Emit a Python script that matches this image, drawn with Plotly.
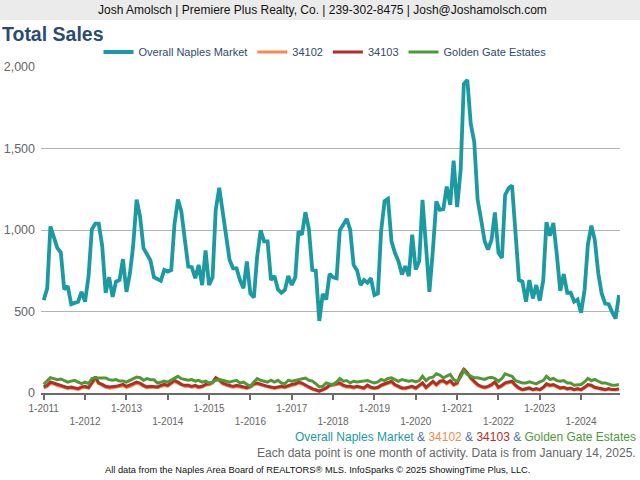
import pandas as pd
import plotly.graph_objects as go

months = pd.date_range("2011-01-01", "2024-12-01", freq="MS")

overall = [
    570, 642, 1022, 960, 890, 862, 636, 656, 545, 553, 560, 621,
    560, 714, 1002, 1039, 1039, 900, 615, 710, 590, 683, 693, 821,
    621, 735, 900, 1187, 1084, 889, 848, 813, 710, 697, 689, 755,
    745, 755, 1033, 1187, 1115, 940, 776, 772, 704, 786, 662, 874,
    662, 710, 1125, 1259, 1105, 981, 817, 765, 765, 693, 642, 807,
    611, 586, 837, 998, 930, 930, 693, 718, 635, 615, 632, 718,
    662, 710, 992, 971, 1109, 1006, 755, 751, 442, 607, 574, 730,
    710, 704, 998, 1033, 1068, 1002, 786, 751, 662, 693, 677, 704,
    601, 611, 992, 1177, 1191, 930, 860, 809, 727, 778, 717, 971,
    758, 809, 1185, 900, 620, 880, 1175, 1124, 1128, 1266, 1154, 1425,
    1140, 1368, 1896, 1921, 1652, 1541, 1185, 1063, 931, 880, 941, 1108,
    860, 829, 1215, 1256, 1274, 981, 693, 683, 560, 693, 580, 662,
    566, 693, 1047, 965, 1043, 848, 627, 730, 615, 615, 560, 574,
    492, 632, 909, 1027, 940, 735, 611, 549, 545, 498, 457, 601,
]

zip_34102 = [
    30, 40, 58, 55, 45, 40, 35, 28, 30, 28, 22, 30,
    35, 30, 55, 85, 58, 45, 35, 30, 32, 35, 40, 45,
    35, 40, 50, 60, 55, 40, 32, 35, 36, 32, 40, 46,
    42, 55, 70, 60, 48, 40, 42, 36, 40, 32, 36, 48,
    50, 60, 85, 75, 55, 46, 40, 36, 40, 36, 32, 28,
    35, 50, 55, 48, 42, 36, 32, 28, 32, 36, 32, 40,
    46, 50, 60, 55, 42, 32, 22, 16, 10, 18, 26, 42,
    45, 50, 55, 42, 36, 36, 30, 36, 30, 26, 42, 30,
    26, 30, 42, 50, 60, 65, 46, 36, 26, 26, 30, 36,
    26, 42, 55, 30, 50, 65, 46, 65, 70, 56, 70, 46,
    56, 110, 150, 120, 88, 65, 46, 36, 30, 36, 46, 62,
    30, 42, 56, 62, 66, 42, 26, 18, 22, 26, 18, 22,
    18, 30, 50, 42, 46, 36, 26, 30, 22, 26, 18, 22,
    18, 30, 46, 42, 30, 26, 22, 18, 22, 18, 18, 22,
]

zip_34103 = [
    37, 47, 67, 61, 53, 47, 41, 33, 37, 33, 27, 37,
    41, 33, 61, 100, 61, 53, 41, 37, 37, 41, 47, 53,
    41, 47, 57, 67, 61, 47, 37, 41, 41, 37, 47, 53,
    47, 61, 78, 67, 53, 47, 47, 41, 47, 37, 41, 53,
    57, 67, 94, 82, 61, 53, 47, 41, 47, 41, 37, 33,
    41, 57, 61, 53, 47, 41, 37, 33, 37, 41, 37, 47,
    53, 57, 67, 61, 47, 37, 27, 20, 12, 21, 31, 48,
    52, 56, 62, 48, 41, 41, 35, 41, 35, 31, 48, 35,
    31, 35, 48, 56, 68, 72, 52, 41, 31, 31, 35, 41,
    31, 48, 62, 35, 56, 72, 52, 72, 76, 62, 76, 52,
    62, 114, 145, 124, 93, 72, 52, 41, 35, 41, 52, 68,
    35, 48, 62, 68, 72, 48, 31, 21, 27, 31, 21, 27,
    21, 35, 56, 48, 52, 41, 31, 35, 27, 31, 21, 27,
    21, 35, 52, 48, 35, 31, 27, 21, 27, 21, 21, 27,
]

golden_gate = [
    53, 73, 94, 88, 82, 86, 78, 67, 73, 78, 67, 57,
    67, 57, 88, 94, 92, 94, 92, 82, 78, 82, 73, 73,
    67, 78, 88, 98, 94, 78, 88, 82, 82, 61, 67, 73,
    67, 78, 88, 102, 88, 82, 78, 82, 73, 78, 67, 73,
    61, 67, 78, 82, 78, 71, 67, 73, 78, 61, 67, 53,
    41, 67, 88, 78, 73, 67, 78, 67, 78, 61, 57, 78,
    73, 78, 82, 88, 92, 78, 73, 57, 37, 41, 62, 56,
    52, 68, 89, 72, 76, 62, 72, 68, 72, 72, 76, 68,
    62, 68, 83, 76, 89, 93, 83, 72, 83, 76, 72, 76,
    68, 76, 103, 76, 93, 97, 118, 110, 93, 103, 114, 83,
    72, 97, 138, 114, 103, 93, 93, 89, 83, 93, 97, 89,
    72, 89, 118, 110, 103, 76, 68, 62, 62, 68, 62, 56,
    68, 76, 103, 83, 89, 76, 72, 76, 62, 62, 48, 48,
    52, 68, 89, 76, 83, 72, 62, 62, 56, 48, 48, 52,
]

series_names = ["Overall Naples Market", "34102", "34103", "Golden Gate Estates"]
series_colors = ["#1b9aa2", "#f58a4c", "#b32d28", "#4c9a37"]
series_widths = [3.8, 3, 3, 3]
series_values = [overall, zip_34102, zip_34103, golden_gate]

tick_years = list(range(2011, 2025))
tick_vals = [f"{y}-01-01" for y in tick_years]
tick_text = [f"1-{y}" if (y - 2011) % 2 == 0 else f"<br>1-{y}" for y in tick_years]

fig = go.Figure()
for name, color, width, vals in zip(series_names, series_colors, series_widths, series_values):
    fig.add_trace(go.Scatter(
        x=months, y=vals, name=name, mode="lines",
        line=dict(color=color, width=width),
    ))

L, R, T, B = 41, 20, 67, 87
pw, ph = 640 - L - R, 480 - T - B

def px(x):
    return (x - L) / pw

def py(y):
    return (480 - B - y) / ph

fig.update_layout(
    width=640, height=480,
    margin=dict(l=L, r=R, t=T, b=B, autoexpand=False),
    paper_bgcolor="white", plot_bgcolor="white",
    font=dict(family="Liberation Sans, Arial, sans-serif", size=12, color="#555555"),
    showlegend=True,
    legend=dict(
        orientation="h", xref="container", yref="container",
        x=325 / 640, xanchor="center", y=1 - 52 / 480, yanchor="middle",
        font=dict(size=11, color="#2e4a6e"), itemwidth=30,
        traceorder="normal", bgcolor="rgba(0,0,0,0)",
    ),
    xaxis=dict(
        type="date", range=["2010-12-08", "2024-12-10"],
        tickvals=tick_vals, ticktext=tick_text, automargin=False,
        showgrid=False, showline=True, linecolor="#6b6b6b", linewidth=2,
        ticks="outside", ticklen=5, tickwidth=2, tickcolor="#6b6b6b",
        tickfont=dict(size=10, color="#666666"), zeroline=False,
    ),
    yaxis=dict(
        range=[0, 2000], tickvals=[0, 500, 1000, 1500, 2000], tickformat=",",
        showgrid=True, gridcolor="#b3b3b3", gridwidth=1, zeroline=False,
        automargin=False, ticks="", ticklabelstandoff=5,
        tickfont=dict(size=12.5, color="#666666"),
    ),
    shapes=[
        dict(type="rect", xref="paper", yref="paper",
             x0=px(0), x1=px(640), y0=py(20), y1=py(0),
             fillcolor="#ebebeb", line=dict(width=0), layer="below"),
    ],
    annotations=[
        dict(xref="paper", yref="paper", x=px(322), y=py(10), xanchor="center", yanchor="middle",
             text="Josh Amolsch | Premiere Plus Realty, Co. | 239-302-8475 | Josh@Joshamolsch.com",
             showarrow=False, font=dict(size=12, color="#111111")),
        dict(xref="paper", yref="paper", x=px(0), y=py(34), xanchor="left", yanchor="middle",
             text="<b>Total Sales</b>", showarrow=False,
             font=dict(size=19.5, color="#2a4c72")),
        dict(xref="paper", yref="paper", x=px(638), y=py(437), xanchor="right", yanchor="middle",
             text=("<span style='color:#1b9aa2'>Overall Naples Market</span>"
                   "<span style='color:#4f6f9a'> &amp; </span>"
                   "<span style='color:#f58a4c'>34102</span>"
                   "<span style='color:#4f6f9a'> &amp; </span>"
                   "<span style='color:#b32d28'>34103</span>"
                   "<span style='color:#4f6f9a'> &amp; </span>"
                   "<span style='color:#4c9a37'>Golden Gate Estates</span>"),
             showarrow=False, font=dict(size=12)),
        dict(xref="paper", yref="paper", x=px(638), y=py(453), xanchor="right", yanchor="middle",
             text="Each data point is one month of activity. Data is from January 14, 2025.",
             showarrow=False, font=dict(size=12, color="#666666")),
        dict(xref="paper", yref="paper", x=px(317), y=py(470), xanchor="center", yanchor="middle",
             text="All data from the Naples Area Board of REALTORS® MLS. InfoSparks © 2025 ShowingTime Plus, LLC.",
             showarrow=False, font=dict(size=9.3, color="#111111")),
    ],
)

fig.write_html("out.html", config={"displayModeBar": False},
               post_script="document.body.style.margin='0px';")
